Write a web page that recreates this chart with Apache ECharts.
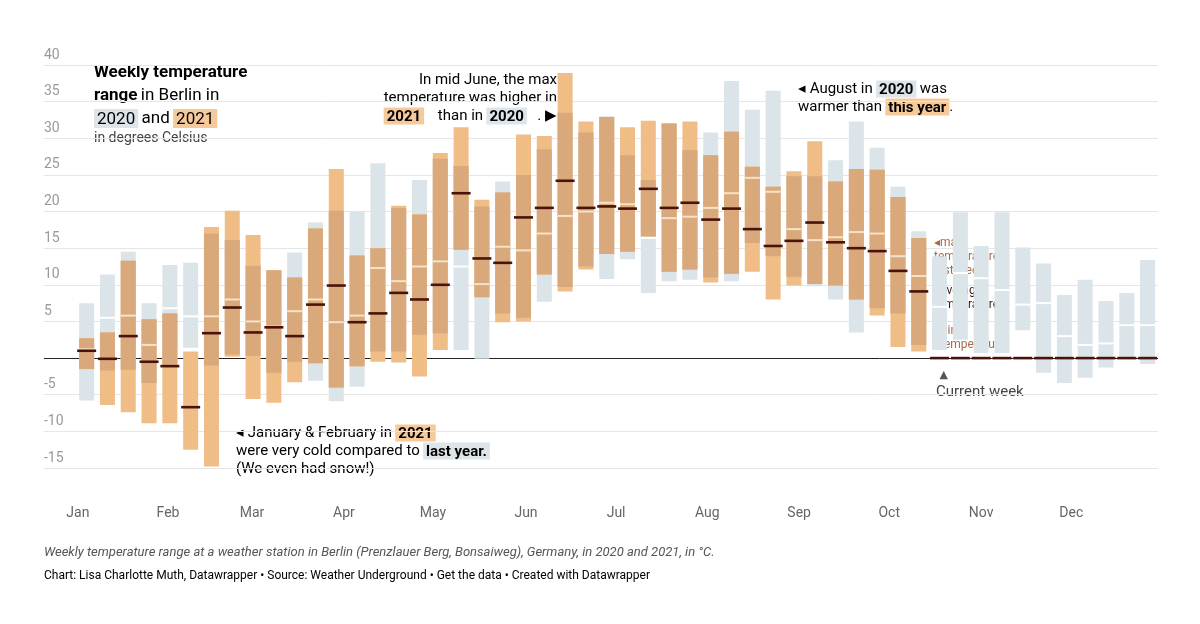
<!DOCTYPE html>
<html><head><meta charset="utf-8">
<script src="https://cdn.jsdelivr.net/npm/echarts@6/dist/echarts.min.js"></script>
<style>html,body{margin:0;padding:0;background:#fff}#c{width:1200px;height:624px}</style>
</head><body><div id="c"></div>
<script>
const weeks = Array.from({length:52},(_,i)=>i+1);
const min2020 = [-5.8,-1.7,-1.6,-3.4,-1,1.4,-1,0.5,0.3,-2,-0.5,-3.1,-5.9,-3.9,0.9,0.9,3.2,3.4,1.1,-0.1,6.1,5.5,7.7,9.7,12.5,10.8,13.5,8.9,10.5,10.7,11,10.5,15.7,13.9,11.1,9.8,8.0,3.5,6.8,6.1,1.8,1.1,2.5,0.7,0.7,3.8,-2.0,-3.4,-2.7,-1.3,0,-0.8];
const max2020 = [7.5,11.4,14.5,7.5,12.7,13,17,16.1,12.6,12,14.4,18.5,20.1,20,26.6,20.5,24.3,27.2,26.2,20.7,24.1,25,28.5,33.5,30.8,33,27.7,24.3,32,28.4,30.8,37.8,33.9,36.5,24.8,24.8,27,32.3,28.7,23.4,17.3,13.9,19.9,15.3,19.9,15.1,12.9,8.6,10.7,7.8,8.9,13.4];
const avg2020 = [1.2,5.5,5.8,1.8,6.8,5.7,5.7,8,5.0,4.3,6.4,8,4.9,5.8,12.3,10.5,12.5,13.2,12.5,10.1,15.2,14.7,17.0,19.4,20.0,21.2,21,16.4,19.1,19.3,20.5,22.5,24.6,22.7,17.6,16.1,16.5,17.2,17,13.9,11.2,7,11.6,10.9,9.3,7.3,7.5,3.0,1.8,2.0,4.5,4.5];
const min2021 = [-1.5,-6.4,-7.4,-8.9,-8.9,-12.5,-14.8,0.2,-5.6,-6.1,-3.3,-0.7,-4.0,-1.1,-0.5,-0.6,-2.5,1.1,14.8,8.3,4.9,5.0,11.4,9.1,12.1,14.2,14.5,16.6,11.8,12.1,10.3,11.5,11.8,8.0,9.9,10.1,9.9,8.0,5.8,1.5,0.9,null,null,null,null,null,null,null,null,null,null,null];
const max2021 = [2.7,3.5,13.3,5.3,6.1,0.9,17.9,20.1,16.8,12.0,11.0,17.7,25.8,14,15,20.8,19.6,28.0,31.5,21.6,22.6,30.5,30.3,38.9,32.3,32.9,31.5,32.4,32,32.3,27.7,30.9,26.1,23.4,25.5,29.6,24.1,25.8,25.7,22,16.4,null,null,null,null,null,null,null,null,null,null,null];
const avg2021 = [1.0,-0.1,3.0,-0.5,-1.1,-6.7,3.4,6.9,3.5,4.2,3.0,7.3,9.9,4.9,6.1,8.9,8.0,10.0,22.5,13.6,13.0,19.2,20.5,24.2,20.5,20.7,20.4,23.1,20.5,21.2,18.9,20.4,17.6,15.3,16.0,18.5,15.8,15.0,14.6,11.9,9.1,null,null,null,null,null,null,null,null,null,null,null];
const monthLabels = ['Jan','Feb','Mar','Apr','May','Jun','Jul','Aug','Sep','Oct','Nov','Dec'];
const monthPos = [0.58,4.91,8.95,13.37,17.65,22.12,26.45,30.83,35.25,39.58,44.0,48.33];
const yTicks = [-15,-10,-5,0,5,10,15,20,25,30,35,40];

const data = weeks.map((w,i)=>[w,min2020[i],max2020[i],avg2020[i],
  min2021[i]==null?NaN:min2021[i],max2021[i]==null?NaN:max2021[i],avg2021[i]==null?NaN:avg2021[i]]);

const C_GRAY='#dbe4e9', C_OR='#f0bd87', C_OV='#d9a97b';
function renderItem(params, api){
  const w=api.value(0);
  const bw=15, lw=19;
  const ch=[];
  const rect=(lo,hi,color)=>{const a=api.coord([w,hi]),b=api.coord([w,lo]);
    ch.push({type:'rect',shape:{x:a[0]-bw/2,y:a[1],width:bw,height:b[1]-a[1]},style:{fill:color}});};
  const mn0=api.value(1),mx0=api.value(2),av0=api.value(3),mn1=api.value(4),mx1=api.value(5),av1=api.value(6);
  rect(mn0,mx0,C_GRAY);
  const has=!isNaN(mn1);
  if(has){
    rect(mn1,mx1,C_OR);
    const lo=Math.max(mn0,mn1),hi=Math.min(mx0,mx1);
    if(hi>lo) rect(lo,hi,C_OV);
  }
  const p0=api.coord([w,av0]);
  const inOr = has && av0>=mn1 && av0<=mx1;
  ch.push({type:'rect',shape:{x:p0[0]-bw/2,y:p0[1]-1,width:bw,height:2},style:{fill:inOr?'#f6e2c8':'#ffffff'}});
  const p1=api.coord([w,has?av1:0]);
  ch.push({type:'rect',shape:{x:p1[0]-lw/2,y:p1[1]-1.3,width:lw,height:2.6},style:{fill:'#4a1208'}});
  return {type:'group',children:ch};
}

const chart=echarts.init(document.getElementById('c'));
const hl=(bg)=>({backgroundColor:bg,padding:[2,3,0,3],fontSize:15,color:'#333',fontWeight:'bold',fontFamily:'Roboto'});
chart.setOption({
  animation:false,
  grid:{left:44,right:42,top:65,bottom:156},
  xAxis:{type:'value',min:-1.05,max:52.5,splitLine:{show:false},axisLine:{show:false},axisTick:{show:false},
    axisLabel:{customValues:monthPos,formatter:(v)=>monthLabels[monthPos.indexOf(v)]||'',margin:38,color:'#666',fontSize:14,fontFamily:'Roboto',showMinLabel:true,showMaxLabel:true}},
  yAxis:{type:'value',min:-15,max:40,interval:5,
    splitLine:{lineStyle:{color:'#e6e6e6'}},axisLine:{show:false},axisTick:{show:false},
    axisLabel:{inside:true,verticalAlign:'bottom',margin:0,color:'#999',fontSize:14,fontFamily:'Roboto',
      formatter:(v)=>v===0?'':String(v),padding:[0,0,3,0]}},
  series:[{type:'custom',data:data,renderItem:renderItem,encode:{x:0,y:[1,2,4,5]},
    markLine:{silent:true,symbol:'none',label:{show:false},lineStyle:{color:'#222',width:1,type:'solid'},data:[{yAxis:0}],z:1}}],
  graphic:[
    {type:'text',left:94,top:61,style:{text:'{b|Weekly temperature}\n{b|range} {n|in Berlin in}\n{g|2020} {n|and} {o|2021}',lineHeight:23,
      rich:{b:{fontSize:17,fontWeight:'bold',color:'#222',fontFamily:'Roboto'},n:{fontSize:17,color:'#444',fontFamily:'Roboto'},
        g:{fontSize:17,color:'#444',backgroundColor:'#dde5ea',padding:[2,3,0,3],fontFamily:'Roboto'},
        o:{fontSize:17,color:'#444',backgroundColor:'#f6c99b',padding:[2,3,0,3],fontFamily:'Roboto'}}}},
    {type:'text',left:94,top:131,style:{text:'in degrees Celsius',fontSize:14,fill:'#444',fontFamily:'Roboto'}},
    {type:'text',left:236,top:424,style:{text:'{n|◂ January & February in} {o|2021}\n{n|were very cold compared to} {g|last year.}\n{n|(We even had snow!)}',lineHeight:18,
      rich:{n:{fontSize:15,color:'#333',fontFamily:'Roboto'},o:hl('#f6c99b'),g:hl('#dde5ea')}}},
    {type:'text',right:1200-557,top:71,style:{text:'{n|In mid June, the max}\n{n|temperature was higher in}\n{o|2021} {n|than in} {g|2020}{n|. ▶}',lineHeight:18,align:'right',
      rich:{n:{fontSize:15,color:'#333',fontFamily:'Roboto',align:'right'},o:hl('#f6c99b'),g:hl('#dde5ea')}}},
    {type:'text',left:798,top:80,style:{text:'{n|◂ August in} {g|2020} {n|was}\n{n|warmer than} {o|this year}{n|.}',lineHeight:18,
      rich:{n:{fontSize:15,color:'#333',fontFamily:'Roboto'},o:hl('#f6c99b'),g:hl('#dde5ea')}}},
    {type:'text',left:934,top:236,style:{text:'◂max\ntemperature\nlast week',fontSize:12,lineHeight:14,fill:'#a86a4c',fontFamily:'Roboto'}},
    {type:'text',left:934,top:284,style:{text:'◂average\ntemperature',fontSize:12,lineHeight:14,fill:'#3a1a10',fontFamily:'Roboto'}},
    {type:'text',left:934,top:324,style:{text:' min\n◂temperature',fontSize:12,lineHeight:14,fill:'#a86a4c',fontFamily:'Roboto'}},
    {type:'text',left:936,top:370,style:{text:' ▲',fontSize:11,fill:'#555',fontFamily:'DejaVu Sans'}},
    {type:'text',left:936,top:385,style:{text:'Current week',fontSize:15,fill:'#444',fontFamily:'Roboto'}},
    {type:'text',left:44,top:546,style:{text:'Weekly temperature range at a weather station in Berlin (Prenzlauer Berg, Bonsaiweg), Germany, in 2020 and 2021, in °C.',fontSize:13,fontStyle:'italic',fill:'#555',fontFamily:'Roboto'}},
    {type:'text',left:44,top:570,style:{text:'{n|Chart: Lisa Charlotte Muth, Datawrapper • Source: }{l|Weather Underground}{n| • }{l|Get the data}{n| • Created with }{l|Datawrapper}',
      rich:{n:{fontSize:12,color:'#888',fontFamily:'Roboto'},l:{fontSize:12,color:'#1d81a2',fontFamily:'Roboto'}}}}
  ]
});
</script></body></html>
